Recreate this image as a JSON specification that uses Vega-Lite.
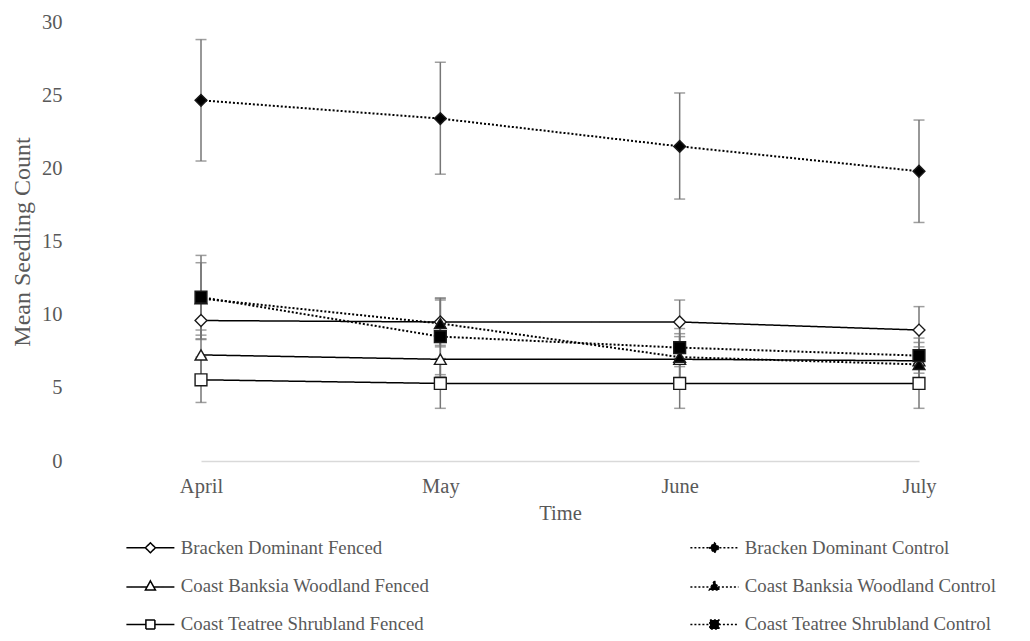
{
  "$schema": "https://vega.github.io/schema/vega-lite/v6.json",
  "width": 949,
  "height": 439,
  "autosize": {"type": "none"},
  "padding": {"left": 81, "top": 22, "right": 0, "bottom": 180},
  "background": "white",
  "config": {
    "view": {"stroke": null},
    "font": "Liberation Serif"
  },
  "data": {
    "values": [
      {"month": "April", "series": "Bracken Dominant Fenced", "site": "Bracken", "treatment": "Fenced", "mean": 9.6, "lo": 8.3, "hi": 10.9},
      {"month": "April", "series": "Bracken Dominant Control", "site": "Bracken", "treatment": "Control", "mean": 24.65, "lo": 20.5, "hi": 28.8},
      {"month": "April", "series": "Coast Banksia Woodland Fenced", "site": "Banksia", "treatment": "Fenced", "mean": 7.25, "lo": 5.55, "hi": 8.95},
      {"month": "April", "series": "Coast Banksia Woodland Control", "site": "Banksia", "treatment": "Control", "mean": 11.1, "lo": 8.6, "hi": 13.55},
      {"month": "April", "series": "Coast Teatree Shrubland Fenced", "site": "Teatree", "treatment": "Fenced", "mean": 5.55, "lo": 4.0, "hi": 7.1},
      {"month": "April", "series": "Coast Teatree Shrubland Control", "site": "Teatree", "treatment": "Control", "mean": 11.2, "lo": 8.35, "hi": 14.05},
      {"month": "May", "series": "Bracken Dominant Fenced", "site": "Bracken", "treatment": "Fenced", "mean": 9.5, "lo": 7.9, "hi": 11.1},
      {"month": "May", "series": "Bracken Dominant Control", "site": "Bracken", "treatment": "Control", "mean": 23.4, "lo": 19.6, "hi": 27.25},
      {"month": "May", "series": "Coast Banksia Woodland Fenced", "site": "Banksia", "treatment": "Fenced", "mean": 6.95, "lo": 5.75, "hi": 8.15},
      {"month": "May", "series": "Coast Banksia Woodland Control", "site": "Banksia", "treatment": "Control", "mean": 9.4, "lo": 7.8, "hi": 11.0},
      {"month": "May", "series": "Coast Teatree Shrubland Fenced", "site": "Teatree", "treatment": "Fenced", "mean": 5.3, "lo": 3.6, "hi": 7.0},
      {"month": "May", "series": "Coast Teatree Shrubland Control", "site": "Teatree", "treatment": "Control", "mean": 8.5, "lo": 5.9, "hi": 11.15},
      {"month": "June", "series": "Bracken Dominant Fenced", "site": "Bracken", "treatment": "Fenced", "mean": 9.5, "lo": 8.0, "hi": 11.0},
      {"month": "June", "series": "Bracken Dominant Control", "site": "Bracken", "treatment": "Control", "mean": 21.5, "lo": 17.9, "hi": 25.15},
      {"month": "June", "series": "Coast Banksia Woodland Fenced", "site": "Banksia", "treatment": "Fenced", "mean": 6.95, "lo": 5.2, "hi": 8.7},
      {"month": "June", "series": "Coast Banksia Woodland Control", "site": "Banksia", "treatment": "Control", "mean": 7.1, "lo": 5.7, "hi": 8.5},
      {"month": "June", "series": "Coast Teatree Shrubland Fenced", "site": "Teatree", "treatment": "Fenced", "mean": 5.3, "lo": 3.6, "hi": 7.0},
      {"month": "June", "series": "Coast Teatree Shrubland Control", "site": "Teatree", "treatment": "Control", "mean": 7.75, "lo": 6.45, "hi": 9.05},
      {"month": "July", "series": "Bracken Dominant Fenced", "site": "Bracken", "treatment": "Fenced", "mean": 8.95, "lo": 7.35, "hi": 10.55},
      {"month": "July", "series": "Bracken Dominant Control", "site": "Bracken", "treatment": "Control", "mean": 19.8, "lo": 16.3, "hi": 23.3},
      {"month": "July", "series": "Coast Banksia Woodland Fenced", "site": "Banksia", "treatment": "Fenced", "mean": 6.85, "lo": 5.6, "hi": 8.1},
      {"month": "July", "series": "Coast Banksia Woodland Control", "site": "Banksia", "treatment": "Control", "mean": 6.6, "lo": 5.4, "hi": 7.8},
      {"month": "July", "series": "Coast Teatree Shrubland Fenced", "site": "Teatree", "treatment": "Fenced", "mean": 5.3, "lo": 3.6, "hi": 7.0},
      {"month": "July", "series": "Coast Teatree Shrubland Control", "site": "Teatree", "treatment": "Control", "mean": 7.2, "lo": 6.0, "hi": 8.4}
    ]
  },
  "encoding": {
    "x": {
      "field": "month",
      "type": "ordinal",
      "sort": ["April", "May", "June", "July"],
      "scale": {"type": "point", "range": [120, 838], "padding": 0},
      "axis": {
        "title": "Time",
        "titleFont": "Liberation Serif",
        "titleFontSize": 20.5,
        "titleFontWeight": "normal",
        "titleColor": "#595959",
        "titlePadding": 7,
        "labelFont": "Liberation Serif",
        "labelFontSize": 20.5,
        "labelColor": "#595959",
        "labelAngle": 0,
        "labelPadding": 15,
        "ticks": false,
        "tickSize": 0,
        "grid": false,
        "domainColor": "#d9d9d9",
        "domainWidth": 1.5
      }
    }
  },
  "layer": [
    {
      "mark": {"type": "rule", "color": "#767676", "strokeWidth": 1.5},
      "encoding": {
        "y": {
          "field": "lo",
          "type": "quantitative",
          "scale": {"domain": [0, 30], "nice": false},
          "axis": {
            "title": "Mean Seedling Count",
            "titleFont": "Liberation Serif",
            "titleFontSize": 24,
            "titleFontWeight": "normal",
            "titleColor": "#595959",
            "titlePadding": 7,
            "labelFont": "Liberation Serif",
            "labelFontSize": 20.5,
            "labelColor": "#595959",
            "labelPadding": 19,
            "values": [0, 5, 10, 15, 20, 25, 30],
            "domain": false,
            "ticks": false,
            "tickSize": 0,
            "grid": false
          }
        },
        "y2": {"field": "hi"},
        "detail": {"field": "series"}
      }
    },
    {
      "mark": {"type": "tick", "color": "#767676", "size": 11, "thickness": 1.5, "orient": "horizontal"},
      "encoding": {
        "y": {"field": "lo", "type": "quantitative"},
        "detail": {"field": "series"}
      }
    },
    {
      "mark": {"type": "tick", "color": "#767676", "size": 11, "thickness": 1.5, "orient": "horizontal"},
      "encoding": {
        "y": {"field": "hi", "type": "quantitative"},
        "detail": {"field": "series"}
      }
    },
    {
      "mark": {"type": "line", "color": "#000000"},
      "encoding": {
        "y": {"field": "mean", "type": "quantitative"},
        "strokeDash": {
          "field": "series",
          "type": "nominal",
          "scale": {
            "domain": [
              "Bracken Dominant Fenced",
              "Coast Banksia Woodland Fenced",
              "Coast Teatree Shrubland Fenced",
              "Bracken Dominant Control",
              "Coast Banksia Woodland Control",
              "Coast Teatree Shrubland Control"
            ],
            "range": [[1, 0], [1, 0], [1, 0], [2, 2], [2, 2], [2, 2]]
          },
          "legend": {
            "title": null,
            "orient": "none",
            "legendX": 44,
            "legendY": 516,
            "columns": 2,
            "columnPadding": 257,
            "rowPadding": 18.5,
            "padding": 0,
            "labelFont": "Liberation Serif",
            "labelFontSize": 18.8,
            "labelColor": "#595959",
            "labelLimit": 400,
            "symbolSize": 100,
            "symbolOffset": 16,
            "labelOffset": 21,
            "symbolStrokeWidth": 1.5,
            "encoding": {
              "symbols": {
                "size": {"value": 100},
                "shape": {"value": {"expr": "indexof(datum.value, 'Bracken') >= 0 ? 'M-4.8,0L-1,0M1,0L4.8,0M0,-1L1,0L0,1L-1,0Z' : indexof(datum.value, 'Banksia') >= 0 ? 'M-4.8,0.2L-0.7,0.2M0.7,0.2L4.8,0.2M0,-1L1,0.8L-1,0.8Z' : 'M-4.8,0L-0.9,0M0.9,0L4.8,0M-0.9,-0.9L0.9,-0.9L0.9,0.9L-0.9,0.9Z'"}},
                "fill": {"value": {"expr": "indexof(datum.value, 'Control') >= 0 ? '#000000' : '#ffffff'"}},
                "stroke": {"value": "#000000"},
                "strokeWidth": {"value": 1.5},
                "opacity": {"value": 1}
              }
            }
          }
        },
        "strokeWidth": {
          "field": "treatment",
          "type": "nominal",
          "scale": {"domain": ["Fenced", "Control"], "range": [1.5, 2]},
          "legend": null
        }
      }
    },
    {
      "mark": {"type": "point", "filled": false, "size": 140, "stroke": "#1a1a1a", "strokeWidth": 1.4, "opacity": 1},
      "encoding": {
        "y": {"field": "mean", "type": "quantitative"},
        "detail": {"field": "series"},
        "fill": {
          "field": "treatment",
          "type": "nominal",
          "scale": {"domain": ["Fenced", "Control"], "range": ["#ffffff", "#000000"]},
          "legend": null
        },
        "shape": {
          "field": "site",
          "type": "nominal",
          "scale": {
            "domain": ["Bracken", "Banksia", "Teatree"],
            "range": ["diamond", "triangle-up", "square"]
          },
          "legend": null
        }
      }
    }
  ]
}
